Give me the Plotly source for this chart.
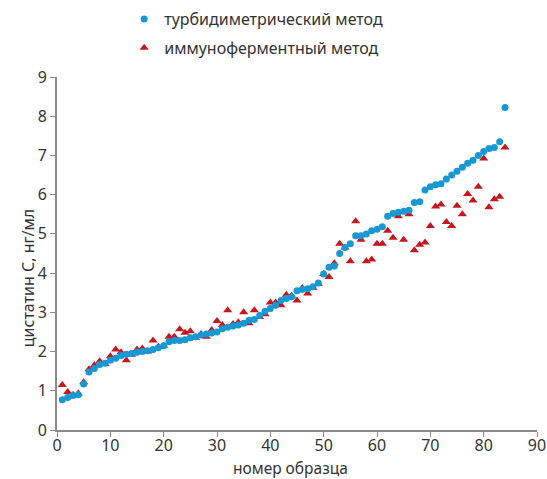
import plotly.graph_objects as go

sample = list(range(1, 85))
turbid = [0.77, 0.83, 0.88, 0.9, 1.17, 1.48, 1.57, 1.67, 1.7, 1.78,
          1.83, 1.9, 1.93, 1.95, 1.98, 2.0, 2.02, 2.05, 2.1, 2.15,
          2.25, 2.28, 2.28, 2.3, 2.35, 2.38, 2.42, 2.45, 2.47, 2.5,
          2.58, 2.62, 2.65, 2.68, 2.72, 2.8, 2.82, 2.92, 3.03, 3.1,
          3.18, 3.3, 3.35, 3.4, 3.55, 3.58, 3.6, 3.65, 3.75, 3.98,
          4.15, 4.18, 4.5, 4.65, 4.75, 4.95, 4.95, 5.0, 5.08, 5.12,
          5.18, 5.45, 5.52, 5.55, 5.58, 5.6, 5.8, 5.82, 6.12, 6.2,
          6.25, 6.28, 6.4, 6.5, 6.6, 6.7, 6.8, 6.88, 7.0, 7.1,
          7.18, 7.2, 7.35, 8.22]
immuno = [1.15, 0.97, 0.9, 0.93, 1.22, 1.55, 1.65, 1.75, 1.68, 1.88,
          2.05, 1.98, 1.78, 1.92, 2.05, 2.08, 2.0, 2.28, 2.12, 2.15,
          2.38, 2.38, 2.57, 2.48, 2.52, 2.35, 2.45, 2.38, 2.55, 2.78,
          2.68, 3.05, 2.7, 2.75, 3.0, 2.72, 3.05, 2.88, 2.95, 3.25,
          3.25, 3.18, 3.45, 3.42, 3.3, 3.62, 3.48, 3.62, 3.72, 3.98,
          3.9, 4.25, 4.75, 4.65, 4.3, 5.32, 4.85, 4.3, 4.35, 4.75,
          4.75, 5.08, 4.9, 5.45, 4.85, 5.5, 4.58, 4.72, 4.78, 5.2,
          5.7, 5.75, 5.3, 5.2, 5.72, 5.5, 6.02, 5.85, 6.2, 6.92,
          5.68, 5.88, 5.95, 7.2]

name_turbid = "турбидиметрический метод"
name_immuno = "иммуноферментный метод"
x_title = "номер образца"
y_title = "цистатин С, нг/мл"

BLUE = "#1798d2"
RED = "#c8161e"
FONT = "Noto Sans"
TXT = "#333333"

fig = go.Figure()
fig.add_trace(go.Scatter(x=sample, y=immuno, mode="markers", name=name_immuno,
                         marker=dict(symbol="triangle-up", size=8, color=RED),
                         legendgroup="b", legendrank=2))
fig.add_trace(go.Scatter(x=sample, y=turbid, mode="markers", name=name_turbid,
                         marker=dict(symbol="circle", size=7, color=BLUE),
                         legendgroup="a", legendrank=1))

axis_common = dict(showline=True, linecolor="#8a8a8a", linewidth=2,
                   ticks="outside", ticklen=5, tickcolor="#8a8a8a", tickwidth=1,
                   showgrid=False, zeroline=False, automargin=False,
                   tickfont=dict(family=FONT, size=16, color=TXT))

fig.update_layout(
    width=547, height=479,
    margin=dict(l=57, r=10, t=77, b=49),
    paper_bgcolor="white", plot_bgcolor="white",
    font=dict(family=FONT, color=TXT),
    xaxis=dict(range=[0, 90], dtick=10, ticklabelstandoff=-5, **axis_common),
    yaxis=dict(range=[0, 9], dtick=1, **axis_common),
    legend=dict(xref="paper", yref="container", x=0.14, y=1 - 2 / 479,
                xanchor="left", yanchor="top",
                tracegroupgap=5, traceorder="grouped",
                font=dict(family=FONT, size=16, color=TXT), bgcolor="rgba(0,0,0,0)"),
    annotations=[
        dict(text=x_title, xref="paper", yref="paper", x=(290 - 57) / 480, y=-38 / 353,
             xanchor="center", yanchor="middle", showarrow=False,
             font=dict(family=FONT, size=15.5, color=TXT)),
        dict(text=y_title, xref="paper", yref="paper", x=-29 / 480, y=0.43,
             xanchor="center", yanchor="middle", showarrow=False, textangle=-90,
             font=dict(family=FONT, size=16, color=TXT)),
    ],
)

fig.write_html("out.html")
